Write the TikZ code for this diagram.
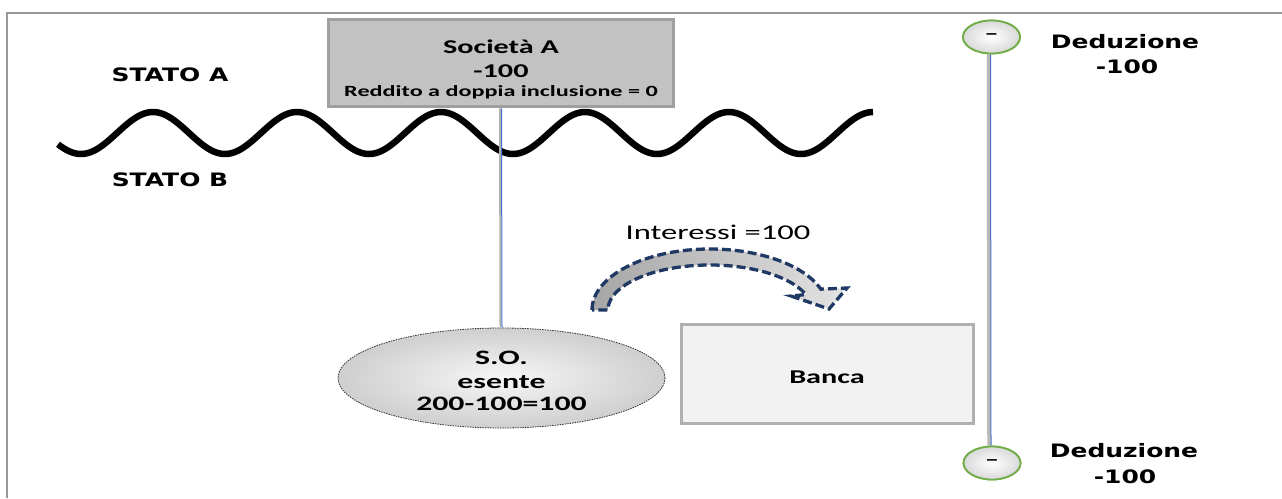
\documentclass[tikz,border=0pt]{standalone}
\usepackage{fontspec}
\setmainfont{Carlito}[FakeStretch=1.55]
\newfontfamily\dvfont{DejaVu Sans}[FakeStretch=1.35]
\usetikzlibrary{shapes.geometric}
\definecolor{navy}{HTML}{1F3864}
\definecolor{lineblue}{HTML}{4472C4}
\definecolor{circgreen}{HTML}{70AD47}
\begin{document}
\begin{tikzpicture}[x=1pt,y=1pt,
  frameline/.style={draw=gray!80, line width=1.5pt},
  socbox/.style={rectangle, fill=gray!48, draw=gray!75, line width=3.5pt, minimum width=345pt, minimum height=87pt, inner sep=0pt},
  bankbox/.style={rectangle, fill=gray!10, draw=gray!62, line width=3.5pt, minimum width=292pt, minimum height=99pt, inner sep=0pt},
  soell/.style={ellipse, draw=black!80, dash pattern=on 1.5pt off 1pt, line width=0.8pt, shading=radial, inner color=gray!6, outer color=gray!38, minimum width=327pt, minimum height=100pt, inner sep=0pt},
  minus/.style={ellipse, draw=circgreen, line width=1.8pt, shading=radial, inner color=white, outer color=gray!30, minimum width=57pt, minimum height=33pt, inner sep=0pt, font=\bfseries\fontsize{18}{18}\selectfont},
  cal/.style={inner sep=0pt, font=\bfseries\fontsize{19.5}{19.5}\selectfont},
  calsmall/.style={inner sep=0pt, font=\bfseries\fontsize{15.6}{15.6}\selectfont},
  elltext/.style={inner sep=0pt, font=\bfseries\fontsize{20.5}{20.5}\selectfont},
  dv/.style={inner sep=0pt, font=\dvfont\bfseries\fontsize{18.5}{18.5}\selectfont},
  wave/.style={line width=6.5pt, black},
  shadowline/.style={draw=gray!55, line width=3.5pt},
  blueline/.style={draw=lineblue, line width=1pt},
  flow/.style={draw=navy, line width=3.3pt, dash pattern=on 9pt off 4pt, left color=gray!70, right color=gray!22}
]
\useasboundingbox (0,0) rectangle (1282,-498);
% frame
\coordinate (ftl) at (7,-13);
\coordinate (ftr) at (1282,-13);
\coordinate (fbl) at (7,-498);
\draw[frameline] (fbl) -- (ftl) -- (ftr);

% wave border
\draw[wave] plot[domain=58:873, samples=300, smooth] (\x, {-133+21*cos((\x-153)*2.5)});

% state labels
\node[dv] (statoA) at (170,-75) {STATO A};
\node[dv] (statoB) at (170,-180) {STATO B};

% Societa A
\node[socbox] (soc) at (501,-63) {};
\node[cal] (socname) at (501,-47) {Società A};
\node[cal] (socval) at (501,-71) {-100};
\node[calsmall] (socred) at (501,-92) {Reddito a doppia inclusione = 0};

% S.O.
\node[soell] (so) at (501.5,-378) {};
\node[elltext] (so1) at (501.5,-358) {S.O.};
\node[elltext] (so2) at (501.5,-382) {esente};
\node[elltext] (so3) at (501.5,-404) {200-100=100};

% connector Societa -> S.O.
\draw[draw=gray!60, line width=2pt] ([xshift=-1pt]soc.south) -- ([xshift=-1pt]so.north);
\draw[blueline] ([xshift=0.5pt]soc.south) -- ([xshift=0.5pt]so.north);

% Banca
\node[bankbox] (banca) at (827.5,-374) {};
\node[cal] (bancatext) at (827,-377) {Banca};

% interest arrow
\path[flow] (592,-310) arc[start angle=180, end angle=20, x radius=118, y radius=61]
  -- (847,-288) -- (829,-309) -- (791,-296) -- (805.8,-294.6)
  arc[start angle=20, end angle=180, x radius=102, y radius=45] -- cycle;
\node[inner sep=0pt, font=\fontsize{21}{21}\selectfont] (interessi) at (718,-232) {Interessi =100};

% right deduction line
\node[minus] (mtop) at (991.5,-37) {};
\node[minus] (mbot) at (992,-463) {};
\draw[shadowline] ([xshift=-3pt]mtop.south) -- ([xshift=-3pt]mbot.north);
\draw[blueline] ([xshift=-1pt]mtop.south) -- ([xshift=-1pt]mbot.north);
\node[minus] (mtopf) at (mtop) {–};
\node[minus] (mbotf) at (mbot) {–};

\node[dv] (dedtop) at (1125,-42) {Deduzione};
\node[dv] (dedtopv) at (1127,-67) {-100};
\node[dv] (dedbot) at (1124,-451) {Deduzione};
\node[dv] (dedbotv) at (1125,-477) {-100};
\end{tikzpicture}
\end{document}
